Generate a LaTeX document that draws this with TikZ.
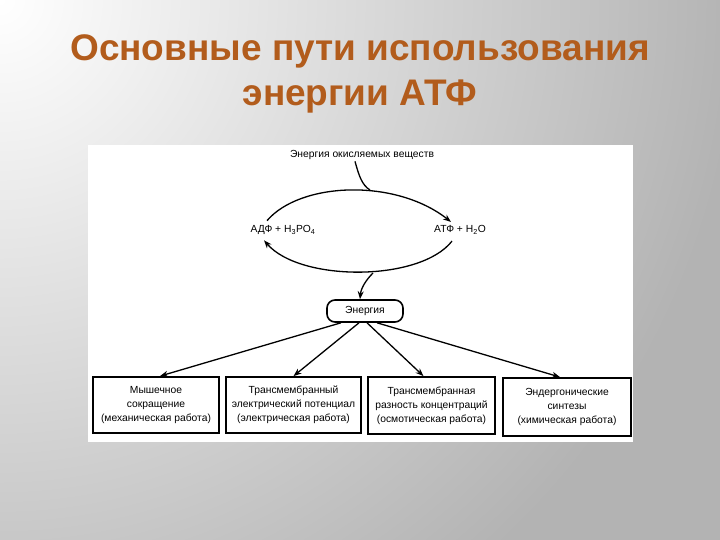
\documentclass[tikz,border=0pt]{standalone}
\usepackage{fontspec}
\setmainfont{Liberation Sans}
\usetikzlibrary{arrows.meta,calc}
\definecolor{bggray}{RGB}{179,179,179}
\definecolor{titlecol}{RGB}{178,92,28}
\tikzset{
  conn/.style={line width=1.3pt,-{Stealth[length=8pt,width=6pt]}},
  plain/.style={line width=1.3pt},
  small/.style={font=\fontsize{10.3}{12}\selectfont,inner sep=1.5pt},
  workbox/.style={draw,line width=1.8pt,align=center,font=\fontsize{10.3}{14}\selectfont,inner sep=0pt},
  titletext/.style={font=\fontsize{37}{40}\selectfont\bfseries,text=titlecol,anchor=base}
}
\begin{document}
\begin{tikzpicture}[x=1pt,y=-1pt]
\useasboundingbox (0,0) rectangle (720,540);
% background
\fill[bggray] (0,0) rectangle (720,540);
\begin{scope}
  \clip (0,0) rectangle (720,540);
  \shade[inner color=white,outer color=bggray] (0,0) circle (740);
\end{scope}
% title
\node[titletext] (t1) at (360,61) {Основные пути использования};
\node[titletext] (t2) at (360,106) {энергии АТФ};
% white panel
\fill[white] (88,145) rectangle (633,442);
% top text
\node[small] (src) at (362,155) {Энергия окисляемых веществ};
\node[small] (adp) at (283,230) {АДФ + H\textsubscript{3}PO\textsubscript{4}};
\node[small] (atp) at (460,230) {АТФ + H\textsubscript{2}O};
% energy box
\node[draw,line width=1.6pt,rounded corners=8pt,minimum width=76pt,minimum height=22pt,small] (en) at (365,311) {Энергия};
% work boxes
\node[workbox,minimum width=126pt,minimum height=56pt] (b1) at (156,405) {Мышечное\\сокращение\\(механическая работа)};
\node[workbox,minimum width=135pt,minimum height=56pt] (b2) at (293.5,405) {Трансмембранный\\электрический потенциал\\(электрическая работа)};
\node[workbox,minimum width=127pt,minimum height=57pt] (b3) at (431.5,405.5) {Трансмембранная\\разность концентраций\\(осмотическая работа)};
\node[workbox,minimum width=128pt,minimum height=58pt] (b4) at (567,407) {Эндергонические\\синтезы\\(химическая работа)};
% cycle
\coordinate (topl) at ([xshift=-16pt,yshift=3pt]adp.north);
\coordinate (topr) at ([xshift=-9pt,yshift=2pt]atp.north);
\coordinate (botr) at ([xshift=-8pt,yshift=-5pt]atp.south);
\coordinate (botl) at ([xshift=-19pt,yshift=-4pt]adp.south);
\coordinate (join) at (370,190);
\coordinate (fork) at (373,273);
\draw[conn] (topl) .. controls (300,182) and (395,178) .. (topr);
\draw[conn] (botr) .. controls (420,282) and (300,282) .. (botl);
\draw[plain] ([xshift=-7pt]src.south) .. controls (359,176) and (362,185) .. (join);
\draw[conn] (fork) .. controls (366,280) and (361,288) .. ([xshift=-5pt]en.north);
% fan-out
\draw[conn] ([xshift=-24pt]en.south) -- ([xshift=4pt]b1.north);
\draw[conn] ([xshift=-6pt]en.south) -- (b2.north);
\draw[conn] ([xshift=2pt]en.south) -- ([xshift=-8pt]b3.north);
\draw[conn] ([xshift=12pt]en.south) -- ([xshift=-7pt]b4.north);
\end{tikzpicture}
\end{document}
